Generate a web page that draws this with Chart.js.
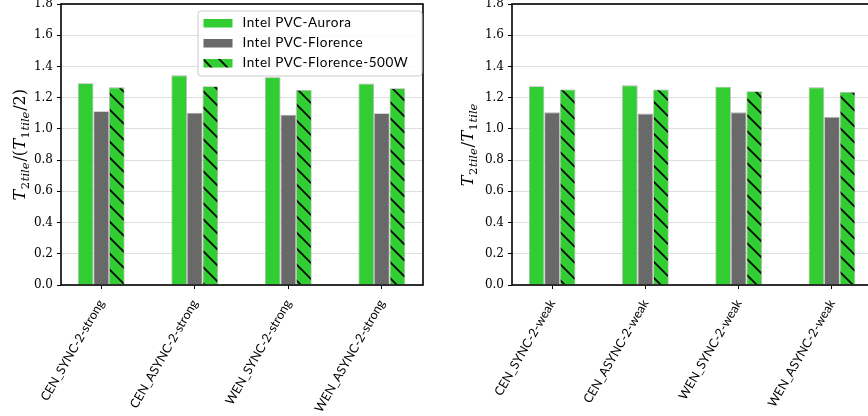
<!DOCTYPE html>
<html>
<head>
<meta charset="utf-8">
<script src="https://cdn.jsdelivr.net/npm/chart.js@4"></script>
<style>
html, body { margin: 0; padding: 0; background: #fff; overflow: hidden; }
#wrap { position: relative; width: 868px; height: 416px; overflow: hidden; }
canvas { position: absolute; top: 0; }
#c1 { left: 0; }
#c2 { left: 440px; }
</style>
</head>
<body>
<div id="wrap">
  <canvas id="c1" width="430" height="416"></canvas>
  <canvas id="c2" width="440" height="416"></canvas>
</div>
<script>
// data
const seriesNames = ["Intel PVC-Aurora", "Intel PVC-Florence", "Intel PVC-Florence-500W"];
const strongCats = ["CEN_SYNC-2-strong", "CEN_ASYNC-2-strong", "WEN_SYNC-2-strong", "WEN_ASYNC-2-strong"];
const weakCats = ["CEN_SYNC-2-weak", "CEN_ASYNC-2-weak", "WEN_SYNC-2-weak", "WEN_ASYNC-2-weak"];
const strongAurora = [1.292, 1.343, 1.331, 1.290];
const strongFlorence = [1.113, 1.104, 1.091, 1.100];
const strongFlorence500 = [1.266, 1.273, 1.249, 1.260];
const weakAurora = [1.273, 1.279, 1.270, 1.266];
const weakFlorence = [1.106, 1.098, 1.106, 1.076];
const weakFlorence500 = [1.253, 1.253, 1.241, 1.236];
const yTicks = [0.0, 0.2, 0.4, 0.6, 0.8, 1.0, 1.2, 1.4, 1.6, 1.8];

const GREEN = '#32cd32';
const GRAY = '#696969';

function hatchPattern(canvas) {
  const t = document.createElement('canvas');
  t.width = 16; t.height = 16;
  const g = t.getContext('2d');
  g.fillStyle = GREEN;
  g.fillRect(0, 0, 16, 16);
  g.strokeStyle = '#000';
  g.lineWidth = 1.6;
  g.beginPath();
  g.moveTo(-2, -2); g.lineTo(18, 18);
  g.moveTo(-2, 14); g.lineTo(2, 18);
  g.moveTo(14, -2); g.lineTo(18, 2);
  g.stroke();
  return canvas.getContext('2d').createPattern(t, 'repeat');
}

// frame round the plot area
const framePlugin = {
  id: 'frame',
  afterDatasetsDraw(chart) {
    const a = chart.chartArea, ctx = chart.ctx;
    ctx.save();
    ctx.strokeStyle = '#000';
    ctx.lineWidth = 1.6;
    ctx.strokeRect(a.left, a.top, a.right - a.left, a.bottom - a.top);
    ctx.restore();
  }
};

// y axis title with subscripts
const mathTitle = {
  id: 'mathTitle',
  afterDraw(chart, args, opts) {
    const ctx = chart.ctx;
    const big = '16px "DejaVu Serif"';
    const small = '11.5px "DejaVu Serif"';
    let total = 0;
    opts.parts.forEach(p => {
      ctx.font = (p.it ? 'italic ' : '') + (p.sub ? small : big);
      p.w = ctx.measureText(p.s).width + (p.sub ? 0.8 : 0.4);
      total += p.w;
    });
    const a = chart.chartArea;
    ctx.save();
    ctx.translate(opts.x, (a.top + a.bottom) / 2);
    ctx.rotate(-Math.PI / 2);
    ctx.fillStyle = '#000';
    ctx.textBaseline = 'alphabetic';
    let x = -total / 2;
    opts.parts.forEach(p => {
      ctx.font = (p.it ? 'italic ' : '') + (p.sub ? small : big);
      ctx.fillText(p.s, x, p.sub ? 8.5 : 5);
      x += p.w;
    });
    ctx.restore();
  }
};

const boxLegend = {
  id: 'boxLegend',
  afterDraw(chart) {
    const ctx = chart.ctx, a = chart.chartArea;
    const w = 224, h = 65;
    const x0 = a.right - 1.5 - w, y0 = a.top + 6.5;
    ctx.save();
    ctx.fillStyle = 'rgba(255,255,255,0.85)';
    ctx.strokeStyle = '#cccccc';
    ctx.lineWidth = 1;
    ctx.beginPath();
    ctx.roundRect(x0 + 0.5, y0 + 0.5, w, h, 3);
    ctx.fill(); ctx.stroke();
    ctx.font = '13.5px Lato';
    ctx.letterSpacing = '0.5px';
    ctx.textBaseline = 'middle';
    chart.data.datasets.forEach((ds, i) => {
      const cy = y0 + 12.5 + i * 20;
      ctx.fillStyle = ds.backgroundColor;
      ctx.fillRect(x0 + 6, cy - 4, 29, 8.5);
      ctx.fillStyle = '#000';
      ctx.fillText(ds.label, x0 + 45, cy);
    });
    ctx.restore();
  }
};

function makeChart(id, cats, a, b, c, yWidth, titleX, titleParts, withLegend) {
  const canvas = document.getElementById(id);
  const pts = vals => vals.map((v, i) => ({ x: i, y: v }));
  const plugins = [framePlugin, mathTitle];
  if (withLegend) plugins.push(boxLegend);
  return new Chart(canvas, {
    type: 'bar',
    data: {
      datasets: [
        { label: seriesNames[0], data: pts(a), backgroundColor: GREEN },
        { label: seriesNames[1], data: pts(b), backgroundColor: GRAY },
        { label: seriesNames[2], data: pts(c), backgroundColor: hatchPattern(canvas) }
      ]
    },
    options: {
      responsive: false,
      animation: false,
      devicePixelRatio: 1,
      layout: { padding: { top: 4, right: 7, left: 0, bottom: 0 } },
      datasets: {
        bar: { categoryPercentage: 0.5, barPercentage: 1.0, borderWidth: 0.8, borderColor: 'rgba(170,170,170,0.9)' }
      },
      plugins: {
        legend: { display: false },
        tooltip: { enabled: false },
        mathTitle: { x: titleX, parts: titleParts }
      },
      scales: {
        x: {
          type: 'linear',
          min: -0.43, max: 3.44,
          offset: false,
          afterBuildTicks: s => { s.ticks = cats.map((_, i) => ({ value: i })); },
          afterFit: s => { s.height = 131; s.paddingLeft = 0; s.paddingRight = 0; },
          grid: { offset: false, drawOnChartArea: false, tickLength: 4, tickColor: '#000', tickWidth: 1 },
          border: { display: false },
          ticks: {
            autoSkip: false,
            minRotation: 60, maxRotation: 60,
            padding: 8,
            color: '#000',
            font: { family: 'Lato', size: 12.5 },
            callback: v => cats[v]
          }
        },
        y: {
          min: 0, max: 1.8,
          afterBuildTicks: s => { s.ticks = yTicks.map(v => ({ value: v })); },
          afterFit: s => { s.width = yWidth; s.paddingTop = 0; s.paddingBottom = 0; },
          grid: { color: '#dedede', lineWidth: 1, tickLength: 4, tickColor: '#000', tickWidth: 1 },
          border: { display: false },
          ticks: {
            padding: 4,
            color: '#000',
            font: { family: 'DejaVu Serif', size: 12 },
            callback: v => v.toFixed(1)
          }
        }
      }
    },
    plugins: plugins
  });
}

makeChart('c1', strongCats, strongAurora, strongFlorence, strongFlorence500, 61, 20, [
  { s: 'T', it: true }, { s: '2', sub: true }, { s: 'tile', it: true, sub: true },
  { s: '/(' }, { s: 'T', it: true }, { s: '1', sub: true }, { s: 'tile', it: true, sub: true },
  { s: '/2)' }
], true);

makeChart('c2', weakCats, weakAurora, weakFlorence, weakFlorence500, 72, 28, [
  { s: 'T', it: true }, { s: '2', sub: true }, { s: 'tile', it: true, sub: true },
  { s: '/' }, { s: 'T', it: true }, { s: '1', sub: true }, { s: 'tile', it: true, sub: true }
], false);
</script>
</body>
</html>
